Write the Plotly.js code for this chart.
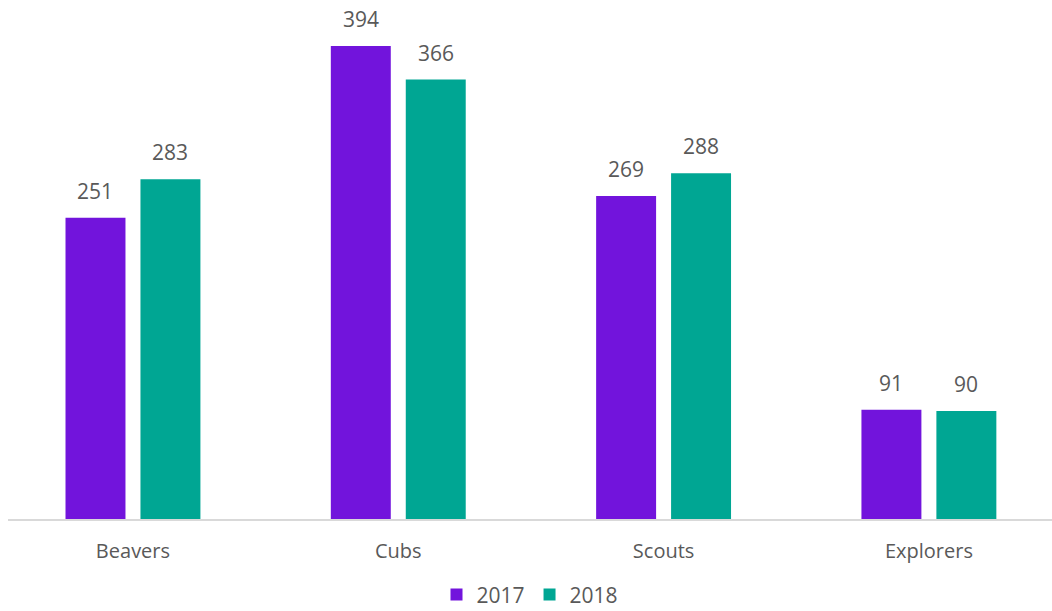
<!DOCTYPE html>
<html>
<head>
<meta charset="utf-8">
<script src="https://cdn.plot.ly/plotly-3.0.1.min.js"></script>
<style>html,body{margin:0;padding:0;background:#fff;}#chart{width:1052px;height:611px;}</style>
</head>
<body>
<div id="chart"></div>
<script>
const categories = ["Beavers", "Cubs", "Scouts", "Explorers"];
const seriesNames = ["2017", "2018"];
const values2017 = [251, 394, 269, 91];
const values2018 = [283, 366, 288, 90];
const colors = ["#7214DC", "#00A693"];

const series = [values2017, values2018];
const textColor = "#595959";
const fontFamily = "'Open Sans', 'Noto Sans', sans-serif";

const traces = series.map((vals, i) => ({
  type: "bar",
  name: seriesNames[i],
  x: categories,
  y: vals,
  marker: {color: colors[i]},
  hoverinfo: "x+y+name"
}));

const annotations = [];
series.forEach((vals, i) => {
  vals.forEach((v, j) => {
    annotations.push({
      x: categories[j], y: v, xref: "x", yref: "y",
      text: String(v), showarrow: false,
      xanchor: "center", yanchor: "bottom",
      xshift: (i === 0 ? -37.5 : 37.5), yshift: 11,
      font: {size: 21, color: textColor, family: fontFamily}
    });
  });
});

const layout = {
  width: 1052, height: 611,
  margin: {l: 8, r: 0, t: 0, b: 92, autoexpand: false},
  paper_bgcolor: "#fff", plot_bgcolor: "#fff",
  font: {family: fontFamily, color: textColor, size: 20},
  barmode: "group",
  bargap: 0.435,
  bargroupgap: 0.2,
  showlegend: true,
  legend: {orientation: "h", x: 0.5, xanchor: "center", y: -0.146, yanchor: "middle",
           font: {size: 21, color: textColor}, traceorder: "normal"},
  xaxis: {
    type: "category",
    range: [-0.471, 3.464],
    showline: true, linecolor: "#d9d9d9", linewidth: 2,
    ticks: "", showgrid: false, zeroline: false,
    ticklabelstandoff: 13,
    tickfont: {size: 20, color: textColor}
  },
  yaxis: {
    range: [0, 432.3], visible: false, showgrid: false, zeroline: false
  },
  annotations: annotations
};

Plotly.newPlot("chart", traces, layout, {displayModeBar: false, staticPlot: true});
</script>
</body>
</html>
